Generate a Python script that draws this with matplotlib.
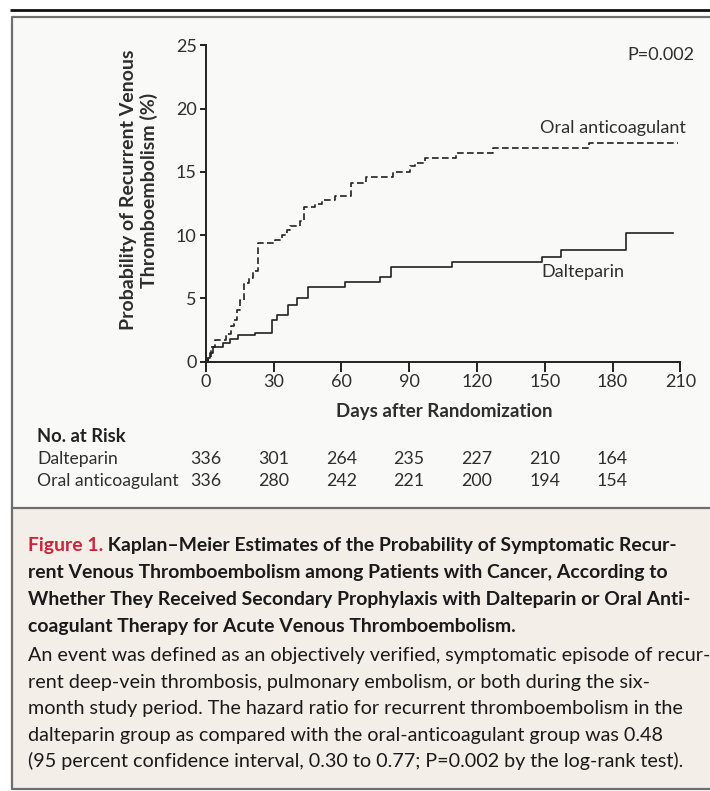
import matplotlib
matplotlib.use("Agg")
import matplotlib.pyplot as plt
import matplotlib.transforms as mtransforms
from matplotlib.patches import Rectangle

plt.rcParams['font.family'] = ['Lato', 'DejaVu Sans']

# Kaplan-Meier steps (day of step, cumulative % after step)
oral_days = [0, 1, 2.5, 4, 9, 11, 12.5, 13.7, 15.2, 17, 19, 21, 23, 30.7, 33.6, 35.8, 37.3, 41.7,
             43.6, 48.4, 51.3, 57, 64.3, 71, 83, 90.4, 92.6, 97, 110.6, 127, 169.8, 209]
oral_prob = [0, 0.4, 1.2, 1.75, 2.2, 2.8, 3.3, 4.1, 4.9, 6.2, 6.6, 7.2, 9.35, 9.6, 10.0, 10.4, 10.7, 11.1,
             12.2, 12.5, 12.8, 13.1, 14.1, 14.6, 15.0, 15.5, 15.7, 16.1, 16.5, 16.9, 17.25, 17.25]

dalt_days = [0, 1, 2, 3.4, 7.8, 10.8, 14.4, 21.8, 29.2, 31.7, 36.6, 40.5, 45.4, 61.7, 77, 82,
             108.8, 149, 157, 186, 206.6]
dalt_prob = [0, 0.3, 0.7, 1.2, 1.45, 1.77, 2.1, 2.25, 3.3, 3.7, 4.5, 5.0, 5.9, 6.3, 6.7, 7.45,
             7.9, 8.3, 8.8, 10.2, 10.2]

x_ticks = [0, 30, 60, 90, 120, 150, 180, 210]
y_ticks = [0, 5, 10, 15, 20, 25]

risk_days = [0, 30, 60, 90, 120, 150, 180]
risk_dalt = [336, 301, 264, 235, 227, 210, 164]
risk_oral = [336, 280, 242, 221, 200, 194, 154]

title_red = "Figure 1."
title_lines = [
    " Kaplan–Meier Estimates of the Probability of Symptomatic Recur-",
    "rent Venous Thromboembolism among Patients with Cancer, According to",
    "Whether They Received Secondary Prophylaxis with Dalteparin or Oral Anti-",
    "coagulant Therapy for Acute Venous Thromboembolism.",
]
body_lines = [
    "An event was defined as an objectively verified, symptomatic episode of recur-",
    "rent deep-vein thrombosis, pulmonary embolism, or both during the six-",
    "month study period. The hazard ratio for recurrent thromboembolism in the",
    "dalteparin group as compared with the oral-anticoagulant group was 0.48",
    "(95 percent confidence interval, 0.30 to 0.77; P=0.002 by the log-rank test).",
]

W, H = 710, 791
ink = '#222222'
grey_txt = '#2e2e2e'
fig = plt.figure(figsize=(W / 100, H / 100), dpi=100)

# background layer in pixel coordinates
bg = fig.add_axes([0, 0, 1, 1])
bg.set_xlim(0, W)
bg.set_ylim(H, 0)
bg.axis('off')
bg.add_patch(Rectangle((12, 17), 720, 491, facecolor='#f9f9f8', edgecolor='none'))
bg.add_patch(Rectangle((12, 508), 720, 281, facecolor='#f4eee8', edgecolor='none'))
bg.plot([10, W], [9.5, 9.5], color='#111111', lw=2.0, solid_capstyle='butt')
bg.plot([W + 5, 12, 12, W + 5], [17, 17, 789, 789], color='#6e6e6e', lw=1.6)
bg.plot([12, W + 5], [508, 508], color='#6e6e6e', lw=1.6)

# main plot
ax = fig.add_axes([205.7 / W, 1 - 361.7 / H, (680.3 - 205.7) / W, (361.7 - 45.3) / H])
ax.patch.set_alpha(0)
ax.step(oral_days, oral_prob, where='post', color=ink, lw=1.2, ls=(0, (4, 2)))
ax.step(dalt_days, dalt_prob, where='post', color=ink, lw=1.2)
ax.set_xlim(0, 210)
ax.set_ylim(0, 25)
for s in ['top', 'right']:
    ax.spines[s].set_visible(False)
for s in ['left', 'bottom']:
    ax.spines[s].set_linewidth(1.4)
    ax.spines[s].set_color(ink)
ax.set_xticks(x_ticks)
ax.set_yticks(y_ticks)
ax.tick_params(axis='x', length=7, width=1.4, pad=1.5, labelsize=13, color=ink, labelcolor=grey_txt)
ax.tick_params(axis='y', length=4.5, width=1.4, pad=2, labelsize=13, color=ink, labelcolor=grey_txt)

bg.text(694, 55, "P=0.002", ha='right', va='center', fontsize=13, color=grey_txt)
bg.text(540, 128, "Oral anticoagulant", ha='left', va='center', fontsize=13, color=grey_txt)
bg.text(541, 272, "Dalteparin", ha='left', va='center', fontsize=13, color=grey_txt)

bg.text(139, 190, "Probability of Recurrent Venous\nThromboembolism (%)", rotation=90,
        ha='center', va='center', ma='center', fontsize=14, fontweight='bold',
        color=grey_txt, linespacing=1.2)
bg.text(444, 411, "Days after Randomization", ha='center', va='center',
        fontsize=13.5, fontweight='bold', color=grey_txt)

# number at risk
bg.text(37, 437, "No. at Risk", ha='left', va='center', fontsize=13.2, fontweight='bold', color='#222222')
bg.text(37, 459, "Dalteparin", ha='left', va='center', fontsize=12.6, color=grey_txt)
bg.text(37, 481, "Oral anticoagulant", ha='left', va='center', fontsize=12.6, color=grey_txt)
tr = mtransforms.blended_transform_factory(ax.transData, bg.transData)
for d, a, b in zip(risk_days, risk_dalt, risk_oral):
    bg.text(d, 459, str(a), transform=tr, ha='center', va='center', fontsize=12.8, color=grey_txt)
    bg.text(d, 481, str(b), transform=tr, ha='center', va='center', fontsize=12.8, color=grey_txt)

# caption, fitted to the line lengths of the original
x0 = 28
red = bg.text(x0, 551, title_red, ha='left', va='baseline', fontsize=14,
              fontweight='bold', color='#d0223a')
t_title = []
for i, line in enumerate(title_lines):
    t_title.append(bg.text(x0, 551 + 27 * i, line, ha='left', va='baseline', fontsize=14,
                           fontweight='bold', color='#1a1a1a'))
t_body = []
for i, line in enumerate(body_lines):
    t_body.append(bg.text(x0, 661 + 26.6 * i, line, ha='left', va='baseline', fontsize=14,
                          color='#1a1a1a'))

title_ends = [682, 678, 690, 523]
body_ends = [698, 664, 695, 672, 682]

fig.canvas.draw()
r = fig.canvas.get_renderer()


def wid(t):
    return t.get_window_extent(r).width


meas = [wid(red) + wid(t_title[0])] + [wid(t) for t in t_title[1:]]
size_t = 14 * sum(e - x0 for e in title_ends) / sum(meas)
meas = [wid(t) for t in t_body]
size_b = 14 * sum(e - x0 for e in body_ends) / sum(meas)
red.set_fontsize(size_t)
for t in t_title:
    t.set_fontsize(size_t)
for t in t_body:
    t.set_fontsize(size_b)
fig.canvas.draw()
t_title[0].set_x(x0 + wid(red))

fig.savefig("out.png", dpi=100)
